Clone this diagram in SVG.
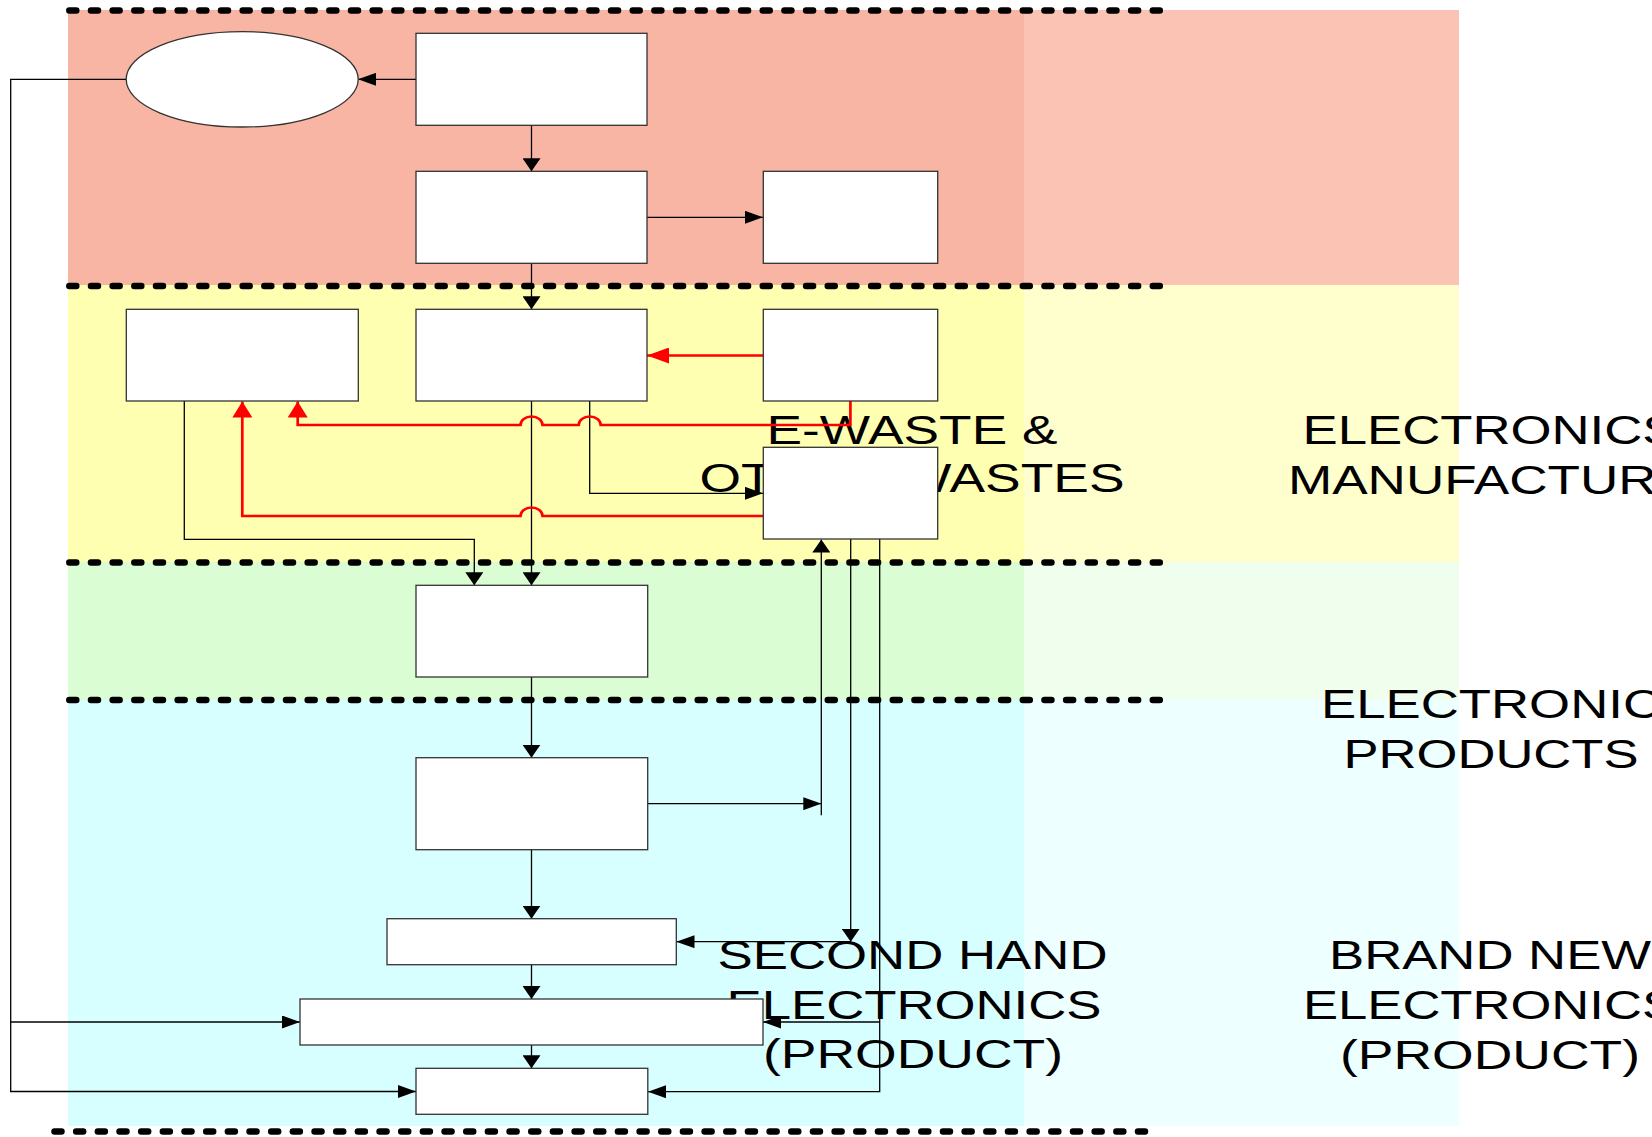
<svg xmlns="http://www.w3.org/2000/svg" width="1652" height="1137" viewBox="0 0 1652 1137">
<style>
.node{fill:#ffffff;stroke:#333333;stroke-width:1.3}
.c{fill:none;stroke:#000000;stroke-width:1.3}
.r{fill:none;stroke:#ff0000;stroke-width:2.7}
.dots{fill:none;stroke:#000000;stroke-width:6.5;stroke-linecap:round;stroke-dasharray:7 14.67}
.lbl{font-family:"Liberation Sans",Arial,sans-serif;font-size:40px;fill:#000000;text-anchor:middle}
</style>
<defs>
<marker id="bh" markerUnits="userSpaceOnUse" markerWidth="18" markerHeight="13" refX="18" refY="6.5" orient="auto"><path d="M0,0 L18,6.5 L0,13 z" fill="#000"/></marker>
<marker id="bv" markerUnits="userSpaceOnUse" markerWidth="13" markerHeight="18" refX="13" refY="9" orient="auto"><path d="M0,0 L13,9 L0,18 z" fill="#000"/></marker>
<marker id="rh" markerUnits="userSpaceOnUse" markerWidth="22" markerHeight="16" refX="22" refY="8" orient="auto"><path d="M0,0 L22,8 L0,16 z" fill="#ff0000"/></marker>
<marker id="rv" markerUnits="userSpaceOnUse" markerWidth="16" markerHeight="20" refX="16" refY="10" orient="auto"><path d="M0,0 L16,10 L0,20 z" fill="#ff0000"/></marker>
</defs>
<rect width="1652" height="1137" fill="#ffffff"/>
<g id="bands">
<rect x="68" y="10" width="956" height="275" fill="#f9b5a4"/>
<rect x="1024" y="10" width="435" height="275" fill="#fbc3b3"/>
<rect x="68" y="285" width="956" height="277" fill="#ffffb2"/>
<rect x="1024" y="285" width="435" height="277" fill="#ffffcd"/>
<rect x="68" y="562" width="956" height="138" fill="#dafdd4"/>
<rect x="1024" y="562" width="435" height="138" fill="#effeed"/>
<rect x="68" y="700" width="956" height="426" fill="#d8ffff"/>
<rect x="1024" y="700" width="435" height="426" fill="#edffff"/>
</g>
<g id="separators">
<path class="dots" d="M69.3,10.5 H1159.8"/>
<path class="dots" d="M69.3,286 H1159.8"/>
<path class="dots" d="M69.3,562.5 H1159.8"/>
<path class="dots" d="M69.3,700 H1159.8"/>
<path class="dots" d="M54.5,1131.5 H1145"/>
</g>
<g id="labels">
<text class="lbl" x="912" y="444" textLength="291" lengthAdjust="spacingAndGlyphs">E-WASTE &amp;</text>
<text class="lbl" x="912" y="492" textLength="425" lengthAdjust="spacingAndGlyphs">OTHER WASTES</text>
<text class="lbl" x="1490" y="444" textLength="375" lengthAdjust="spacingAndGlyphs">ELECTRONICS</text>
<text class="lbl" x="1490" y="494" textLength="404" lengthAdjust="spacingAndGlyphs">MANUFACTURE</text>
<text class="lbl" x="1491" y="718" textLength="340" lengthAdjust="spacingAndGlyphs">ELECTRONIC</text>
<text class="lbl" x="1491" y="768" textLength="295" lengthAdjust="spacingAndGlyphs">PRODUCTS</text>
<text class="lbl" x="912.5" y="969" textLength="390" lengthAdjust="spacingAndGlyphs">SECOND HAND</text>
<text class="lbl" x="914" y="1018.5" textLength="375" lengthAdjust="spacingAndGlyphs">ELECTRONICS</text>
<text class="lbl" x="913" y="1067.5" textLength="300" lengthAdjust="spacingAndGlyphs">(PRODUCT)</text>
<text class="lbl" x="1490" y="969" textLength="322" lengthAdjust="spacingAndGlyphs">BRAND NEW</text>
<text class="lbl" x="1490" y="1019" textLength="374" lengthAdjust="spacingAndGlyphs">ELECTRONICS</text>
<text class="lbl" x="1490" y="1069" textLength="300" lengthAdjust="spacingAndGlyphs">(PRODUCT)</text>
</g>
<g id="connectors">
<path class="c" d="M416,79.3 H358" marker-end="url(#bh)"/>
<path class="c" d="M531.5,125.3 V171.3" marker-end="url(#bv)"/>
<path class="c" d="M647,217.3 H763" marker-end="url(#bh)"/>
<path class="c" d="M531.5,263.3 V309.3" marker-end="url(#bv)"/>
<path class="c" d="M184.3,401 V539.3 H474.3 V585.3" marker-end="url(#bv)"/>
<path class="c" d="M531.5,401 V585.3" marker-end="url(#bv)"/>
<path class="c" d="M589.7,401 V493.3 H763" marker-end="url(#bh)"/>
<path class="c" d="M531.5,677 V757.7" marker-end="url(#bv)"/>
<path class="c" d="M647.7,803.7 H821.3" marker-end="url(#bh)"/>
<path class="c" d="M821.3,815.3 V539.5" marker-end="url(#bv)"/>
<path class="c" d="M850.7,539 V941.7" marker-end="url(#bv)"/>
<path class="c" d="M850.7,941.7 H676.5" marker-end="url(#bh)"/>
<path class="c" d="M879.7,539 V1091.7 H648" marker-end="url(#bh)"/>
<path class="c" d="M879.7,1022 H763" marker-end="url(#bh)"/>
<path class="c" d="M531.5,849.7 V918.7" marker-end="url(#bv)"/>
<path class="c" d="M531.5,964.7 V999" marker-end="url(#bv)"/>
<path class="c" d="M531.5,1045 V1068.3" marker-end="url(#bv)"/>
<path class="c" d="M126.3,79.3 H10.7 V1091.5 H416" marker-end="url(#bh)"/>
<path class="c" d="M10.7,1022 H300" marker-end="url(#bh)"/>
<path class="r" d="M763,355.5 H647" marker-end="url(#rh)"/>
<path class="r" d="M850.4,400.5 V425 H600.7 A11 8.5 0 0 0 578.7,425 H542.5 A11 8.5 0 0 0 520.5,425 H297.7 V401.5" marker-end="url(#rv)"/>
<path class="r" d="M763,516 H542.5 A11 8.5 0 0 0 520.5,516 H242.3 V401.5" marker-end="url(#rv)"/>
</g>
<g id="nodes">
<ellipse id="n-oval" class="node" cx="242.2" cy="79.3" rx="116" ry="47.7"/>
<rect id="n-a" class="node" x="416" y="33.3" width="231" height="92"/>
<rect id="n-b" class="node" x="416" y="171.3" width="231" height="92"/>
<rect id="n-c" class="node" x="763.3" y="171.3" width="174.4" height="92"/>
<rect id="n-e" class="node" x="126.3" y="309.3" width="232" height="91.7"/>
<rect id="n-d" class="node" x="416" y="309.3" width="231" height="91.7"/>
<rect id="n-f" class="node" x="763.3" y="309.3" width="174.4" height="91.7"/>
<rect id="n-g" class="node" x="763.3" y="447.3" width="174.4" height="91.7"/>
<rect id="n-h" class="node" x="416" y="585.3" width="231.7" height="91.7"/>
<rect id="n-i" class="node" x="416" y="757.7" width="231.7" height="92"/>
<rect id="n-j" class="node" x="387" y="918.7" width="289.3" height="46"/>
<rect id="n-k" class="node" x="300" y="999" width="463" height="46"/>
<rect id="n-l" class="node" x="416" y="1068.3" width="231.8" height="46"/>
</g>
</svg>
